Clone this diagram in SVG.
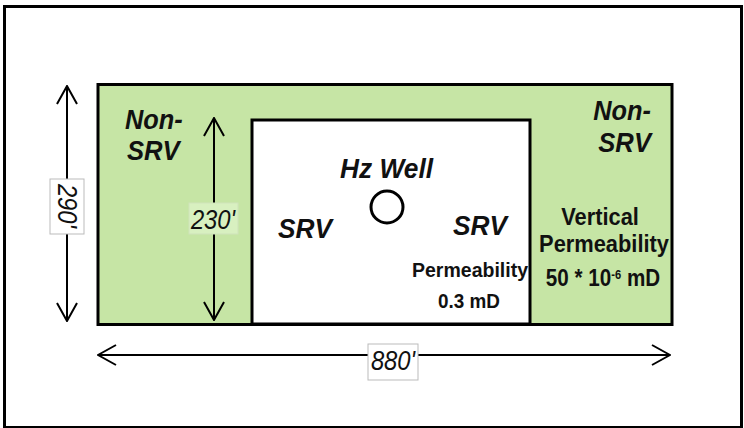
<svg xmlns="http://www.w3.org/2000/svg" width="744" height="428" viewBox="0 0 744 428">
<defs>
<style>
.lbl{font-family:"Liberation Sans",Arial,sans-serif;font-weight:bold;font-style:italic;fill:#111;}
.txt{font-family:"Liberation Sans",Arial,sans-serif;font-weight:bold;fill:#111;}
.dim{font-family:"Liberation Sans",Arial,sans-serif;font-style:italic;fill:#111;}
.ln{stroke:#000;stroke-width:2;fill:none;}
.head{stroke:#000;stroke-width:2;fill:none;stroke-linejoin:miter;}
.box{fill:#fff;stroke:#bbb;stroke-width:1;}
</style>
<marker id="ah" viewBox="0 0 20 22" refX="19" refY="11" markerWidth="20" markerHeight="22" markerUnits="userSpaceOnUse" orient="auto-start-reverse">
<path d="M1,1 L19,11 L1,21" class="head"/>
</marker>
</defs>
<rect x="0" y="0" width="744" height="428" fill="#fff"/>
<rect x="4.5" y="6.5" width="737" height="421" fill="#fff" stroke="#000" stroke-width="3"/>
<g id="non-srv">
<rect x="98" y="84.5" width="574" height="240" fill="#c6e5a5" stroke="#000" stroke-width="3"/>
<text class="lbl" font-size="27" transform="translate(125,129) scale(0.94,1)">Non-</text>
<text class="lbl" font-size="27" transform="translate(127,160) scale(0.95,1)">SRV</text>
<text class="lbl" font-size="27" text-anchor="end" transform="translate(651,120) scale(0.94,1)">Non-</text>
<text class="lbl" font-size="27" text-anchor="end" transform="translate(651,152) scale(0.95,1)">SRV</text>
<text class="txt" font-size="23" text-anchor="middle" transform="translate(600,225) scale(0.95,1)">Vertical</text>
<text class="txt" font-size="24" text-anchor="middle" transform="translate(604,252) scale(0.91,1)">Permeability</text>
<text class="txt" font-size="24" text-anchor="middle" transform="translate(603,286) scale(0.86,1)">50 * 10<tspan font-size="13" dy="-7">-6</tspan><tspan dy="7"> mD</tspan></text>
</g>
<g id="srv">
<rect x="252" y="120" width="278" height="204" fill="#fff" stroke="#000" stroke-width="3"/>
<text class="lbl" x="340" y="178" font-size="27" textLength="93" lengthAdjust="spacingAndGlyphs">Hz Well</text>
<text class="lbl" x="278" y="238" font-size="27" textLength="54" lengthAdjust="spacingAndGlyphs">SRV</text>
<text class="lbl" x="453" y="235" font-size="27" textLength="54" lengthAdjust="spacingAndGlyphs">SRV</text>
<text class="txt" font-size="21" text-anchor="middle" transform="translate(470,277) scale(0.93,1)">Permeability</text>
<text class="txt" font-size="21" text-anchor="middle" transform="translate(469,308) scale(0.9,1)">0.3 mD</text>
</g>
<g id="hz-well">
<circle cx="387" cy="207" r="16" fill="#fff" stroke="#000" stroke-width="3"/>
</g>
<g id="connectors">
<line class="ln" x1="67" y1="86" x2="67" y2="321" marker-start="url(#ah)" marker-end="url(#ah)"/>
<line class="ln" x1="214" y1="118" x2="214" y2="320" marker-start="url(#ah)" marker-end="url(#ah)"/>
<line class="ln" x1="98" y1="355" x2="670" y2="355" marker-start="url(#ah)" marker-end="url(#ah)"/>
</g>
<g id="dim-290">
<rect class="box" x="50" y="179" width="34" height="55"/>
<text class="dim" font-size="28" text-anchor="middle" transform="translate(58,206) rotate(90) scale(0.85,1)">290'</text>
</g>
<g id="dim-230">
<rect x="189" y="203" width="49" height="31" fill="#d8f0c0" stroke="#cfe3bb" stroke-width="1"/>
<text class="dim" font-size="28" text-anchor="middle" transform="translate(213,229) scale(0.85,1)">230'</text>
</g>
<g id="dim-880">
<rect class="box" x="368" y="344" width="50" height="36"/>
<text class="dim" font-size="28" text-anchor="middle" transform="translate(393,370) scale(0.85,1)">880'</text>
</g>
</svg>
